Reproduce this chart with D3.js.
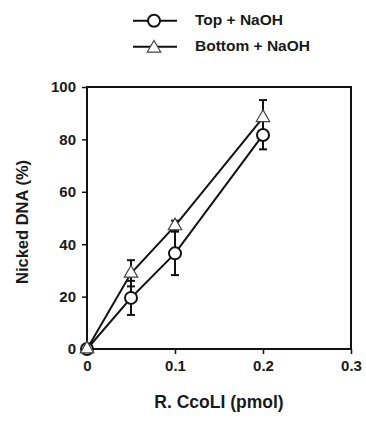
<!DOCTYPE html>
<html>
<head>
<meta charset="utf-8">
<script src="https://cdn.jsdelivr.net/npm/d3@7"></script>
<style>
  body { margin: 0; background: #fff; }
  svg text { font-family: "Liberation Sans", Arial, sans-serif; font-weight: bold; fill: #1a1a1a; }
</style>
</head>
<body>
<svg id="chart" width="366" height="428"></svg>
<script>
// data
var doses = [0, 0.05, 0.1, 0.2];
var topNaOH = [0, 19.5, 36.5, 81.7];
var topErr = [0, 6.5, 8.3, 5.5];
var bottomNaOH = [0, 28.9, 47, 88.3];
var bottomErr = [0, 5, 2, 6.7];
var xTicks = [0, 0.1, 0.2, 0.3];
var yTicks = [0, 20, 40, 60, 80, 100];

var svg = d3.select("#chart");
var ink = "#111";

var x = d3.scaleLinear().domain([0, 0.3]).range([87, 351]);
var y = d3.scaleLinear().domain([0, 100]).range([349, 87]);

// frame
svg.append("rect")
  .attr("x", x(0)).attr("y", y(100))
  .attr("width", x(0.3) - x(0)).attr("height", y(0) - y(100))
  .attr("fill", "none").attr("stroke", ink).attr("stroke-width", 2);

var xAxis = svg.append("g")
  .attr("transform", "translate(0," + y(0) + ")")
  .call(d3.axisBottom(x).tickValues(xTicks).tickSize(5).tickPadding(6)
    .tickFormat(function (d) { return d === 0 ? "0" : d3.format(".1f")(d); }));
var yAxis = svg.append("g")
  .attr("transform", "translate(" + x(0) + ",0)")
  .call(d3.axisLeft(y).tickValues(yTicks).tickSize(5).tickPadding(6));

[xAxis, yAxis].forEach(function (a) {
  a.select(".domain").remove();
  a.selectAll(".tick line").attr("stroke", ink).attr("stroke-width", 1.5);
  a.selectAll(".tick text").style("font-size", "15px").attr("fill", "#1a1a1a");
});

svg.append("text")
  .attr("x", 219).attr("y", 408)
  .attr("text-anchor", "middle")
  .style("font-size", "17.5px")
  .text("R. CcoLI (pmol)");

svg.append("text")
  .attr("transform", "translate(28,222) rotate(-90)")
  .attr("text-anchor", "middle")
  .style("font-size", "16.5px")
  .text("Nicked DNA (%)");

var line = d3.line()
  .x(function (d) { return x(d[0]); })
  .y(function (d) { return y(d[1]); });

var series = [
  { name: "Top + NaOH", vals: topNaOH, err: topErr, shape: "circle" },
  { name: "Bottom + NaOH", vals: bottomNaOH, err: bottomErr, shape: "triangle" }
];

function marker(g, shape) {
  if (shape === "circle") {
    g.append("circle").attr("r", 6)
      .attr("fill", "#fff").attr("stroke", ink).attr("stroke-width", 2);
  } else {
    g.append("path").attr("d", d3.symbol().type(d3.symbolTriangle).size(78)())
      .attr("fill", "#fff").attr("stroke", "#444").attr("stroke-width", 1.2);
  }
}

series.forEach(function (s) {
  var pts = doses.map(function (d, i) { return [d, s.vals[i], s.err[i]]; });
  // error bars
  pts.forEach(function (p) {
    if (!p[2]) return;
    var g = svg.append("g").attr("stroke", ink).attr("stroke-width", 2);
    g.append("line").attr("x1", x(p[0])).attr("x2", x(p[0]))
      .attr("y1", y(p[1] - p[2])).attr("y2", y(p[1] + p[2]));
    [p[1] - p[2], p[1] + p[2]].forEach(function (v) {
      g.append("line").attr("x1", x(p[0]) - 4).attr("x2", x(p[0]) + 4)
        .attr("y1", y(v)).attr("y2", y(v));
    });
  });
  svg.append("path").datum(pts)
    .attr("d", line).attr("fill", "none")
    .attr("stroke", ink).attr("stroke-width", 2);
});

series.forEach(function (s) {
  doses.forEach(function (d, i) {
    var g = svg.append("g").attr("transform", "translate(" + x(d) + "," + y(s.vals[i]) + ")");
    marker(g, s.shape);
  });
});

// legend
var legend = svg.selectAll(".legend")
  .data(series)
  .enter()
  .append("g")
  .attr("class", "legend")
  .attr("transform", function (d, i) { return "translate(0," + (20.7 + i * 26) + ")"; });

legend.append("line")
  .attr("x1", 133).attr("x2", 177).attr("y1", 0).attr("y2", 0)
  .attr("stroke", ink).attr("stroke-width", 2);
legend.each(function (d) {
  var g = d3.select(this).append("g").attr("transform", "translate(154," + (d.shape === "triangle" ? 1.5 : 0) + ")");
  marker(g, d.shape);
});
legend.append("text")
  .attr("x", 195).attr("y", 4)
  .style("font-size", "15.5px")
  .text(function (d) { return d.name; });
</script>
</body>
</html>
